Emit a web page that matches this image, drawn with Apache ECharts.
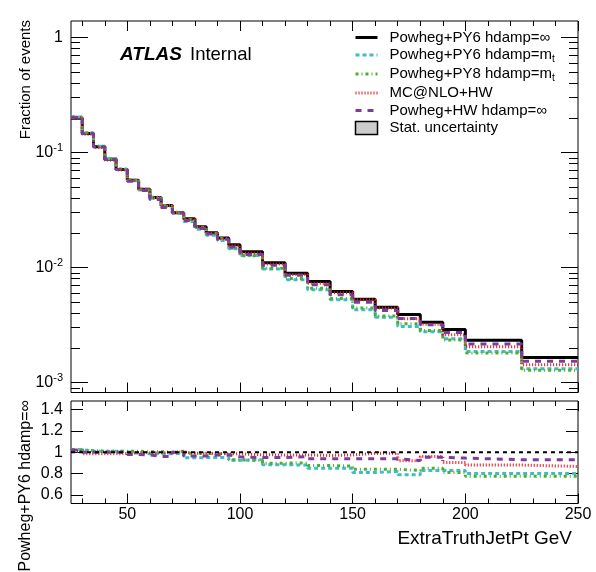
<!DOCTYPE html>
<html>
<head>
<meta charset="utf-8">
<title>ExtraTruthJetPt</title>
<script src="https://cdn.jsdelivr.net/npm/echarts@6/dist/echarts.min.js"></script>
<style>
html,body{margin:0;padding:0;background:#fff;}
#main{width:596px;height:572px;}
</style>
</head>
<body>
<div id="main"></div>
<script>
// bin edges (GeV)
var edges = [25,30,35,40,45,50,55,60,65,70,75,80,85,90,95,100,110,120,130,140,150,160,170,180,190,200,225,250];

// fraction of events per bin
var py6Inf  = [0.198,0.146,0.112,0.0875,0.0711,0.0574,0.048,0.0406,0.0346,0.0299,0.0265,0.0226,0.0201,0.0181,0.0158,0.0137,0.0110,0.00892,0.00755,0.00618,0.0053,0.00451,0.0039,0.00334,0.00289,0.00233,0.00165];
var py6Mt   = [0.203,0.1475,0.1131,0.0884,0.0715,0.0568,0.0473,0.0400,0.0341,0.0296,0.0251,0.0215,0.0191,0.0172,0.0146,0.0127,0.00971,0.00785,0.00642,0.00525,0.00429,0.00370,0.00308,0.00277,0.00240,0.00186,0.00132];
var py8Mt   = [0.202,0.1482,0.1131,0.0884,0.0718,0.0580,0.0482,0.0408,0.0346,0.0302,0.0262,0.0224,0.0198,0.0179,0.0147,0.01265,0.00988,0.00803,0.00661,0.00538,0.00445,0.00379,0.00324,0.00284,0.00234,0.00181,0.00128];
var mcnloHw = [0.200,0.1438,0.1103,0.0862,0.0704,0.0571,0.0478,0.0404,0.0344,0.0300,0.0262,0.0224,0.0199,0.0178,0.0156,0.01337,0.01073,0.00870,0.00732,0.00603,0.00525,0.00446,0.00359,0.00321,0.00261,0.00205,0.00143];
var hwInf   = [0.202,0.146,0.112,0.0875,0.0711,0.0563,0.0468,0.0390,0.0332,0.0299,0.0256,0.0218,0.0196,0.0176,0.0151,0.0130,0.01045,0.00856,0.00710,0.00581,0.00498,0.00424,0.00360,0.00318,0.00273,0.00217,0.00153];

// ratio to Powheg+PY6 hdamp=inf
var rPy6Mt   = [1.025,1.01,1.01,1.01,1.005,0.99,0.985,0.985,0.985,0.99,0.948,0.95,0.95,0.952,0.925,0.93,0.883,0.88,0.85,0.85,0.81,0.82,0.79,0.83,0.83,0.80,0.80];
var rPy8Mt   = [1.02,1.015,1.01,1.01,1.01,1.01,1.005,1.005,1.0,1.01,0.99,0.99,0.985,0.99,0.93,0.923,0.898,0.9,0.876,0.87,0.84,0.84,0.83,0.85,0.81,0.775,0.775];
var rMcnloHw = [1.01,0.985,0.985,0.985,0.99,0.995,0.995,0.995,0.995,1.005,0.99,0.99,0.99,0.985,0.985,0.976,0.975,0.975,0.97,0.975,0.99,0.99,0.92,0.96,0.904,0.88,0.867];
var rHwInf   = [1.02,1.0,1.0,1.0,1.0,0.98,0.975,0.96,0.96,1.0,0.965,0.965,0.975,0.975,0.957,0.95,0.95,0.96,0.94,0.94,0.94,0.94,0.922,0.953,0.945,0.93,0.93];
var unityLine = [[25,1],[250,1]];

// ticks
var xMajor = [50,100,150,200,250];
var xMinor = [30,40,60,70,80,90,110,120,130,140,160,170,180,190,210,220,230,240];
var yLogMajor = [0.001,0.01,0.1,1];
var yLogMinor = [0.0009,0.002,0.003,0.004,0.005,0.006,0.007,0.008,0.009,0.02,0.03,0.04,0.05,0.06,0.07,0.08,0.09,0.2,0.3,0.4,0.5,0.6,0.7,0.8,0.9];
var yRatioMajor = [0.6,0.8,1,1.2,1.4];

var FONT = '"Liberation Sans", Arial, Helvetica, sans-serif';
var names = ['Powheg+PY6 hdamp=\u221e','Powheg+PY6 hdamp=mt','Powheg+PY8 hdamp=mt','MC@NLO+HW','Powheg+HW hdamp=\u221e'];
var colors = ['#000000','#40bcc8','#4cae2f','#e8141c','#7d3c98'];
var dashes = ['solid',[4,3],[3,3,1,3],[1,2],[6,6]];

function steps(vals){
	return edges.map(function(e,i){ return [e, vals[Math.min(i, vals.length-1)]]; });
}

function tickX(grid, pos, vals, len, extra){
	return Object.assign({
		type:'value', gridIndex:grid, position:pos, min:25, max:250,
		axisLine:{show:false, onZero:false},
		axisTick:{show:true, inside:true, length:len, customValues:vals, lineStyle:{color:'#000', width:1}},
		axisLabel:{show:false},
		splitLine:{show:false}
	}, extra || {});
}

function tickY(grid, type, pos, min, max, vals, len, extra){
	var a = {
		type:type, gridIndex:grid, position:pos, min:min, max:max,
		axisLine:{show:false, onZero:false},
		axisTick:{show:true, inside:true, length:len, customValues:vals, lineStyle:{color:'#000', width:1}},
		axisLabel:{show:false},
		splitLine:{show:false}
	};
	if (type === 'log') a.logBase = 10;
	return Object.assign(a, extra || {});
}

var logMin = 0.00082, logMax = 1.39;
var rMin = 0.52, rMax = 1.48;

var chart = echarts.init(document.getElementById('main'));

var series = [];
var topVals = [py6Inf, py6Mt, py8Mt, mcnloHw, hwInf];
topVals.forEach(function(v,i){
	series.push({
		name:names[i], type:'line', step:'end', symbol:'none', xAxisIndex:0, yAxisIndex:0,
		data:steps(v), animation:false,
		lineStyle:{color:colors[i], width:3, type:dashes[i]},
		itemStyle:{color:colors[i]}
	});
});
var ratioVals = [rPy6Mt, rPy8Mt, rMcnloHw, rHwInf];
ratioVals.forEach(function(v,i){
	series.push({
		name:'ratio'+i, type:'line', step:'end', symbol:'none', xAxisIndex:4, yAxisIndex:4,
		data:steps(v), animation:false,
		lineStyle:{color:colors[i+1], width:3, type:dashes[i+1]}
	});
});
series.push({
	name:'unity', type:'line', symbol:'none', xAxisIndex:4, yAxisIndex:4, data:unityLine, animation:false,
	lineStyle:{color:'#000', width:2, type:[4,4]}
});
series.push({
	name:'Stat. uncertainty', type:'bar', xAxisIndex:0, yAxisIndex:0, data:[],
	itemStyle:{color:'#cccccc', borderColor:'#000', borderWidth:1.5}
});

var option = {
	backgroundColor:'#fff',
	animation:false,
	textStyle:{fontFamily:FONT},
	grid:[
		{left:71, top:21, width:507, height:371.5, show:true, borderColor:'#000', borderWidth:1, backgroundColor:'transparent'},
		{left:71, top:401, width:507, height:102.5, show:true, borderColor:'#000', borderWidth:1, backgroundColor:'transparent'}
	],
	xAxis:[
		tickX(0,'bottom',xMajor,10),
		tickX(0,'bottom',xMinor,5),
		tickX(0,'top',xMajor,10),
		tickX(0,'top',xMinor,5),
		tickX(1,'bottom',xMajor,10,{axisLabel:{show:true, customValues:xMajor, fontSize:16, color:'#000', margin:3, fontFamily:FONT}}),
		tickX(1,'bottom',xMinor,5),
		tickX(1,'top',xMajor,10),
		tickX(1,'top',xMinor,5)
	],
	yAxis:[
		tickY(0,'log','left',logMin,logMax,yLogMajor,17,{axisLabel:{show:true, customValues:yLogMajor, margin:8, color:'#000', fontFamily:FONT,
			formatter:function(v){
				var p = Math.round(Math.log(v)/Math.LN10);
				if (p === 0) return '{n|1}';
				return '{n|10}{s|' + p + '}';
			},
			rich:{n:{fontSize:16, lineHeight:20, color:'#000', fontFamily:FONT}, s:{fontSize:11, lineHeight:11, verticalAlign:'top', color:'#000', fontFamily:FONT}}
		}}),
		tickY(0,'log','left',logMin,logMax,yLogMinor,9),
		tickY(0,'log','right',logMin,logMax,yLogMajor,17),
		tickY(0,'log','right',logMin,logMax,yLogMinor,9),
		tickY(1,'value','left',rMin,rMax,yRatioMajor,12,{axisLabel:{show:true, customValues:yRatioMajor, margin:8, fontSize:16, color:'#000', fontFamily:FONT,
			formatter:function(v){ return Math.abs(v-1) < 1e-9 ? '1' : v.toFixed(1); }}}),
		tickY(1,'value','right',rMin,rMax,yRatioMajor,12)
	],
	legend:{
		orient:'vertical', left:354, top:30, padding:0, itemWidth:22, itemHeight:13, itemGap:2.5,
		selectedMode:false,
		itemStyle:{opacity:0},
		lineStyle:{width:3},
		data:[
			{name:names[0]},{name:names[1]},{name:names[2]},{name:names[3]},{name:names[4]},
			{name:'Stat. uncertainty', icon:'rect', itemStyle:{color:'#cccccc', borderColor:'#000', borderWidth:1.5, opacity:1}}
		],
		formatter:function(name){
			if (name === names[1]) return '{n|Powheg+PY6 hdamp=m}{s|t}';
			if (name === names[2]) return '{n|Powheg+PY8 hdamp=m}{s|t}';
			return '{n|' + name + '}';
		},
		textStyle:{
			fontFamily:FONT, fontSize:15, color:'#000', padding:[0,0,0,7],
			rich:{n:{fontSize:15, lineHeight:18, color:'#000', fontFamily:FONT}, s:{fontSize:10, lineHeight:10, verticalAlign:'bottom', color:'#000', fontFamily:FONT}}
		}
	},
	graphic:[
		{type:'text', left:120, top:45, style:{text:'ATLAS', fontFamily:FONT, fontSize:19, fontWeight:'bold', fontStyle:'italic', fill:'#000'}},
		{type:'text', left:190, top:45, style:{text:'Internal', fontFamily:FONT, fontSize:18.5, fill:'#000'}},
		{type:'text', x:26, y:20, rotation:Math.PI/2, style:{text:'Fraction of events', fontFamily:FONT, fontSize:15, fill:'#000', align:'right', verticalAlign:'middle'}},
		{type:'text', x:26, y:400, rotation:Math.PI/2, style:{text:'Powheg+PY6 hdamp=\u221e', fontFamily:FONT, fontSize:16, fill:'#000', align:'right', verticalAlign:'middle'}},
		{type:'text', x:572, y:539, style:{text:'ExtraTruthJetPt GeV', fontFamily:FONT, fontSize:19, fill:'#000', align:'right', verticalAlign:'middle'}}
	],
	series:series
};

chart.setOption(option);
</script>
</body>
</html>
